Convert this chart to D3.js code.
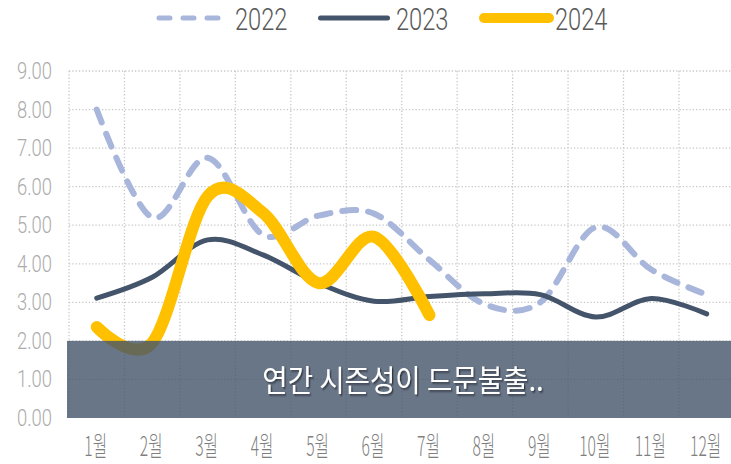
<!DOCTYPE html>
<html>
<head>
<meta charset="utf-8">
<script src="https://cdn.jsdelivr.net/npm/d3@7"></script>
<style>
  html, body { margin: 0; padding: 0; background: #fff; overflow: hidden; }
  svg { display: block; }
</style>
</head>
<body>
<div id="chart"></div>
<script>
const months = ['1월', '2월', '3월', '4월', '5월', '6월', '7월', '8월', '9월', '10월', '11월', '12월']
const years = ['2022', '2023', '2024']
const values2022 = [8.0, 5.2, 6.75, 4.75, 5.25, 5.3, 4.1, 2.95, 3.0, 4.95, 3.85, 3.2]
const values2023 = [3.11, 3.65, 4.62, 4.23, 3.5, 3.03, 3.15, 3.22, 3.2, 2.62, 3.1, 2.7]
const values2024 = [2.36, 1.95, 5.75, 5.32, 3.5, 4.7, 2.67]
const yTicks = [0, 1, 2, 3, 4, 5, 6, 7, 8, 9]
const bandMin = 0
const bandMax = 2
const noteText = '연간 시즌성이 드문불출..'

const width = 731
const height = 464
const plotLeft = 69
const plotRight = 734.4
const plotTop = 71
const plotBottom = 418

const svg = d3.select('#chart')
  .append('svg')
  .attr('width', width)
  .attr('height', height)

const defs = svg.append('defs')
const shadow = defs.append('filter').attr('id', 'shadow')
  .attr('x', '-10%').attr('y', '-30%').attr('width', '120%').attr('height', '160%')
shadow.append('feDropShadow')
  .attr('dx', 1.5).attr('dy', 1.5).attr('stdDeviation', 0.8)
  .attr('flood-color', '#000').attr('flood-opacity', 0.55)

const x = d3.scaleBand().domain(months).range([plotLeft, plotRight]).padding(0)
const y = d3.scaleLinear().domain([0, 9]).range([plotBottom, plotTop])
const cx = m => x(m) + x.bandwidth() / 2

// gridlines
const grid = svg.append('g')
  .attr('stroke', '#c8c8c8')
  .attr('stroke-width', 1.3)
  .attr('stroke-dasharray', '1.3 2')

grid.selectAll('line.h')
  .data(yTicks.filter(d => d > 0))
  .enter()
  .append('line')
  .attr('x1', plotLeft).attr('x2', plotRight)
  .attr('y1', d => y(d)).attr('y2', d => y(d))

grid.selectAll('line.v')
  .data(months.concat(['end']))
  .enter()
  .append('line')
  .attr('x1', (d, i) => plotLeft + i * x.bandwidth())
  .attr('x2', (d, i) => plotLeft + i * x.bandwidth())
  .attr('y1', plotTop).attr('y2', plotBottom)

// y tick labels (thin, condensed)
svg.append('g')
  .selectAll('text')
  .data(yTicks)
  .enter()
  .append('text')
  .attr('transform', d => `translate(52, ${y(d) + 8}) scale(0.8, 1)`)
  .attr('text-anchor', 'end')
  .attr('font-family', 'Roboto, sans-serif')
  .attr('font-weight', 300)
  .attr('font-size', 23)
  .attr('fill', '#ababab')
  .text(d => d.toFixed(2))

// x tick labels
svg.append('g')
  .selectAll('text')
  .data(months)
  .enter()
  .append('text')
  .attr('transform', d => `translate(${cx(d) - 1}, 456) scale(0.58, 1)`)
  .attr('text-anchor', 'middle')
  .attr('font-family', '"Noto Sans CJK KR", Roboto, sans-serif')
  .attr('font-weight', 300)
  .attr('font-size', 27)
  .attr('fill', '#7f7f7f')
  .text(d => d)

const line = d3.line()
  .x((d, i) => cx(months[i]))
  .y(d => y(d))
  .curve(d3.curveCardinal)

const styles = [
  { color: '#a9b6db', width: 6, dash: '14 12' },
  { color: '#44546a', width: 5, dash: null },
  { color: '#ffc000', width: 12, dash: null }
]
const series = [values2022, values2023, values2024]

svg.append('g')
  .selectAll('path')
  .data(series)
  .enter()
  .append('path')
  .attr('d', d => line(d))
  .attr('fill', 'none')
  .attr('stroke', (d, i) => styles[i].color)
  .attr('stroke-width', (d, i) => styles[i].width)
  .attr('stroke-dasharray', (d, i) => styles[i].dash)
  .attr('stroke-linecap', 'round')
  .attr('stroke-linejoin', 'round')

// semi-transparent note band
svg.append('rect')
  .attr('x', plotLeft - 2)
  .attr('y', y(bandMax))
  .attr('width', width - plotLeft + 2)
  .attr('height', y(bandMin) - y(bandMax))
  .attr('fill', '#44546a')
  .attr('fill-opacity', 0.8)

svg.append('text')
  .attr('transform', `translate(${(plotLeft + width) / 2 + 3}, 391) scale(0.92, 1)`)
  .attr('text-anchor', 'middle')
  .attr('font-family', '"Noto Sans CJK KR", sans-serif')
  .attr('font-weight', 400)
  .attr('font-size', 30)
  .attr('fill', '#ffffff')
  .attr('filter', 'url(#shadow)')
  .text(noteText)

// legend
const legendX = [156, 318, 478]
const legendLen = [66, 72, 77]
const legend = svg.append('g')
  .selectAll('g')
  .data(years)
  .enter()
  .append('g')

legend.append('line')
  .attr('x1', (d, i) => legendX[i] + styles[i].width / 2)
  .attr('x2', (d, i) => legendX[i] + legendLen[i] - styles[i].width / 2)
  .attr('y1', 18).attr('y2', 18)
  .attr('stroke', (d, i) => styles[i].color)
  .attr('stroke-width', (d, i) => i === 2 ? 10 : 5)
  .attr('stroke-dasharray', (d, i) => i === 0 ? '11 13' : null)
  .attr('stroke-linecap', 'round')

legend.append('text')
  .attr('transform', (d, i) => `translate(${legendX[i] + legendLen[i] + [13, 6, 0][i]}, 30) scale(0.74, 1)`)
  .attr('font-family', 'Roboto, sans-serif')
  .attr('font-weight', 300)
  .attr('font-size', 32)
  .attr('fill', '#595959')
  .text(d => d)
</script>
</body>
</html>
